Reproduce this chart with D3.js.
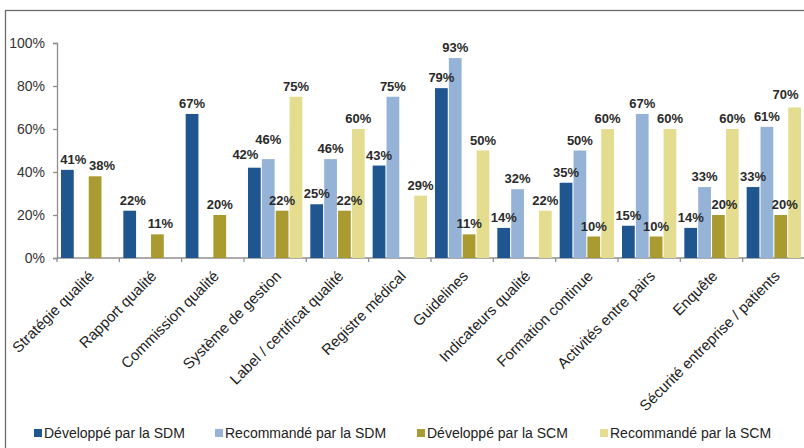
<!DOCTYPE html>
<html>
<head>
<meta charset="utf-8">
<script src="https://cdn.jsdelivr.net/npm/d3@7"></script>
<style>
  html, body { margin: 0; padding: 0; background: #fff; }
  svg { display: block; font-family: Arial, "Liberation Sans", sans-serif; }
</style>
</head>
<body>
<svg id="chart" width="804" height="448"></svg>
<script>
const categories = [
  "Stratégie qualité", "Rapport qualité", "Commission qualité", "Système de gestion",
  "Label / certificat qualité", "Registre médical", "Guidelines", "Indicateurs qualité",
  "Formation continue", "Activités entre pairs", "Enquête", "Sécurité entreprise / patients"
];
const seriesNames = ["Développé par la SDM", "Recommandé par la SDM", "Développé par la SCM", "Recommandé par la SCM"];
const devSDM = [41, 22, 67, 42, 25, 43, 79, 14, 35, 15, 14, 33];
const recSDM = [null, null, null, 46, 46, 75, 93, 32, 50, 67, 33, 61];
const devSCM = [38, 11, 20, 22, 22, null, 11, null, 10, 10, 20, 20];
const recSCM = [null, null, null, 75, 60, 29, 50, 22, 60, 60, 60, 70];
const yTicks = [0, 20, 40, 60, 80, 100];
const colors = ["#1f5690", "#95b3d7", "#a99b30", "#e4dc8e"];

const seriesValues = [devSDM, recSDM, devSCM, recSCM];

// manual label nudges as in the original (category index, series index) -> [dx, dy]
const labelNudge = {
  "0-0": [6, 0], "0-2": [7, 0], "1-0": [3, 0], "1-2": [3, 0],
  "3-0": [-9, -3], "3-1": [0, -9], "4-2": [5, 0],
  "10-2": [6, 0], "11-2": [4, 0], "11-3": [-9, -3]
};

const svg = d3.select("#chart");

// frame
svg.append("rect").attr("x", 5.5).attr("y", 10.5).attr("width", 820).attr("height", 460)
  .attr("fill", "none").attr("stroke", "#6b6b6b").attr("stroke-width", 1.3);

const plotL = 57, plotR = 805, plotT = 43, plotB = 258;
const x0 = d3.scaleBand().domain(categories).range([plotL, plotR]).padding(0);
const x1 = d3.scaleBand().domain(seriesNames).range([4, x0.bandwidth() - 4]).paddingInner(0.08);
const y = d3.scaleLinear().domain([0, 100]).range([plotB, plotT]);

// y axis
const yAxis = d3.axisLeft(y).tickValues(yTicks).tickFormat(d => d + "%").tickSize(4).tickPadding(8);
const gy = svg.append("g").attr("transform", `translate(${plotL},0)`).call(yAxis);
gy.select(".domain").attr("stroke", "#8f8f8f").attr("stroke-width", 1.3);
gy.selectAll(".tick line").attr("stroke", "#8f8f8f").attr("stroke-width", 1.3);
gy.selectAll(".tick text").attr("fill", "#333").style("font-size", "14px").style("font-family", "Arial, 'Liberation Sans', sans-serif");

// x axis
const gx = svg.append("g").attr("transform", `translate(0,${plotB})`);
gx.append("line").attr("x1", plotL).attr("x2", plotR).attr("y1", 0).attr("y2", 0)
  .attr("stroke", "#8f8f8f").attr("stroke-width", 1.3);
gx.selectAll("line.tk").data(categories).join("line").attr("class", "tk")
  .attr("x1", d => x0(d)).attr("x2", d => x0(d)).attr("y1", 0).attr("y2", 4)
  .attr("stroke", "#8f8f8f").attr("stroke-width", 1.3);

// bars
const groups = svg.append("g").selectAll("g").data(categories).join("g")
  .attr("transform", d => `translate(${x0(d)},0)`);

groups.each(function(cat, i) {
  const g = d3.select(this);
  const items = seriesNames.map((s, k) => ({ s, k, i, v: seriesValues[k][i] })).filter(d => d.v != null);
  g.selectAll("rect").data(items).join("rect")
    .attr("x", d => x1(d.s)).attr("width", x1.bandwidth())
    .attr("y", d => y(d.v)).attr("height", d => y(0) - y(d.v))
    .attr("fill", d => colors[d.k]);
  g.selectAll("text").data(items).join("text")
    .attr("x", d => x1(d.s) + x1.bandwidth() / 2 + (labelNudge[d.i + "-" + d.k] || [0, 0])[0])
    .attr("y", d => y(d.v) - 6 + (labelNudge[d.i + "-" + d.k] || [0, 0])[1])
    .attr("text-anchor", "middle").attr("fill", "#2a2a2a")
    .style("font-size", "13px").style("font-weight", "bold")
    .text(d => d.v + "%");
});

// category labels
svg.append("g").selectAll("text").data(categories).join("text")
  .attr("transform", d => `translate(${x0(d) + x0.bandwidth() / 2 + 7},${plotB + 19}) rotate(-45)`)
  .attr("text-anchor", "end").attr("fill", "#222").style("font-size", "15px")
  .text(d => d);

// legend
const legendX = [34, 215, 417, 600];
const lg = svg.append("g").selectAll("g").data(seriesNames).join("g")
  .attr("transform", (d, i) => `translate(${legendX[i]},429)`);
lg.append("rect").attr("width", 8).attr("height", 8).attr("fill", (d, i) => colors[i]);
lg.append("text").attr("x", 10).attr("y", 9).attr("fill", "#222").style("font-size", "14px").text(d => d);
</script>
</body>
</html>
